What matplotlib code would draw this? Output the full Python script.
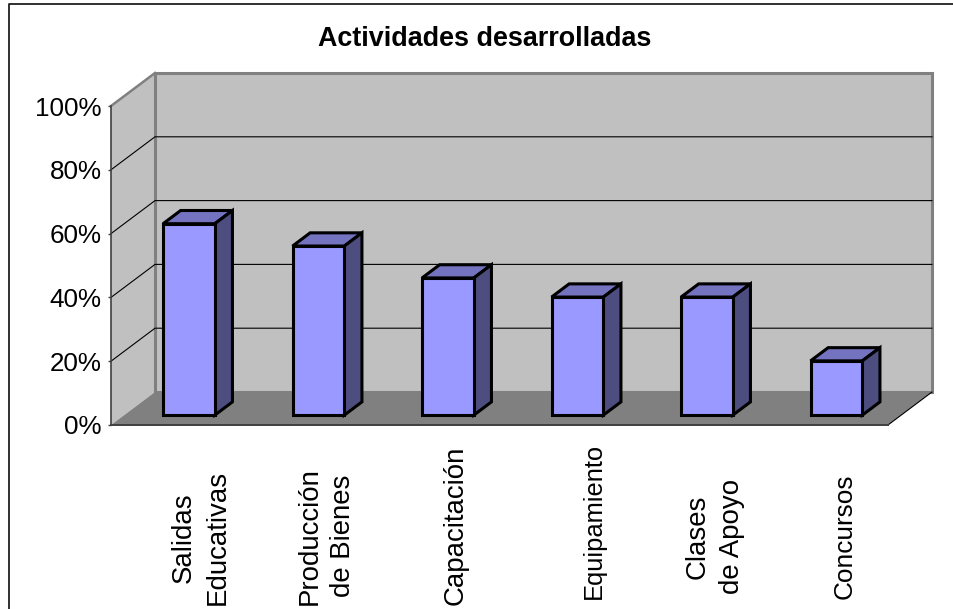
import matplotlib
matplotlib.use('Agg')
import matplotlib.pyplot as plt
from matplotlib.patches import Polygon
from matplotlib.lines import Line2D

plt.rcParams['font.family'] = ['Liberation Sans', 'DejaVu Sans']

categories = ['Salidas\nEducativas', 'Producción\nde Bienes', 'Capacitación',
              'Equipamiento', 'Clases\nde Apoyo', 'Concursos']
values = [60, 53, 43, 37, 37, 17]
yticks = [0, 20, 40, 60, 80, 100]
ytick_labels = ['0%', '20%', '40%', '60%', '80%', '100%']
title = 'Actividades desarrolladas'

W, H = 954, 609
# depth of the fake 3d box, in data units
DX = 44 / 129.5
DY = 33 / 3.19
BAR_W = 0.4
BAR_Z0, BAR_Z1 = 0.3, 0.7

# label nudges in pixels, the original is not very regular
label_shift_x = [4, 0, 0, 9, 0, 0]
label_bottom = [605, 605, 605, 599, 594, 599]
label_size = [19.9, 19.9, 19.9, 18.4, 19.9, 18.9]

fig = plt.figure(figsize=(W / 100, H / 100), dpi=100)
ax = fig.add_axes([111 / W, (H - 425) / H, 777 / W, 319 / H])
ax.set_xlim(0, len(categories))
ax.set_ylim(0, 100)
n = len(categories)


def poly(pts, **kw):
    ax.add_patch(Polygon(pts, closed=True, clip_on=False, **kw))


# walls and floor
poly([(0, 0), (DX, DY), (DX, 100 + DY), (0, 100)], fc='#c0c0c0', ec='none', zorder=1)
poly([(DX, DY), (n + DX, DY), (n + DX, 100 + DY), (DX, 100 + DY)],
     fc='#c0c0c0', ec='#808080', lw=2.2, zorder=1)
poly([(0, 0), (n, 0), (n + DX, DY), (DX, DY)], fc='#808080', ec='none', zorder=2)
ax.plot([0, DX], [100, 100 + DY], color='#808080', lw=1.8, clip_on=False, zorder=2)
ax.plot([n, n + DX], [0, DY], color='black', lw=0.8, clip_on=False, zorder=3)

# gridlines run along the side wall then the back wall
for t in yticks[1:-1]:
    ax.plot([0, DX, n + DX], [t, t + DY, t + DY], color='black', lw=0.8,
            clip_on=False, zorder=2)

# bars
for i, v in enumerate(values):
    x0 = i + 0.5 - BAR_W / 2 + BAR_Z0 * DX
    x1 = x0 + BAR_W
    y0 = BAR_Z0 * DY
    y1 = y0 + v
    dx = (BAR_Z1 - BAR_Z0) * DX
    dy = (BAR_Z1 - BAR_Z0) * DY
    style = dict(ec='black', lw=2.2, joinstyle='miter', zorder=5)
    poly([(x0, y1), (x1, y1), (x1 + dx, y1 + dy), (x0 + dx, y1 + dy)], fc='#7373bf', **style)
    poly([(x1, y0), (x1 + dx, y0 + dy), (x1 + dx, y1 + dy), (x1, y1)], fc='#4d4d80', **style)
    poly([(x0, y0), (x1, y0), (x1, y1), (x0, y1)], fc='#9999ff', **style)

# axes
ax.spines['top'].set_visible(False)
ax.spines['right'].set_visible(False)
ax.spines['left'].set_color('#404040')
ax.spines['left'].set_linewidth(1.2)
ax.spines['bottom'].set_color('#404040')
ax.spines['bottom'].set_linewidth(1.4)
ax.spines['bottom'].set_zorder(4)
ax.patch.set_visible(False)

ax.set_yticks(yticks)
ax.set_yticklabels(ytick_labels, fontsize=18.7)
ax.tick_params(axis='y', length=2.5, width=1, color='#404040', pad=4.4)

px_per_cat = 777 / n
ax.set_xticks([i + 0.5 + 0.06 + BAR_Z0 * DX + label_shift_x[i] / px_per_cat for i in range(n)])
ax.set_xticklabels(categories, rotation=90, va='bottom', ha='center',
                   multialignment='center', linespacing=1.38)
ax.tick_params(axis='x', length=0)
for i, tick in enumerate(ax.xaxis.get_major_ticks()):
    tick.set_pad((label_bottom[i] - 425) * 0.72)
    tick.label1.set_fontsize(label_size[i])

fig.text(485 / W, 1 - 39.5 / H, title, fontsize=19.4, fontweight='bold', ha='center', va='center')

# frame only shows on the top and left, the rest was cropped off
fig.add_artist(Line2D([9 / W, 9 / W, 1], [0, 1 - 4 / H, 1 - 4 / H], transform=fig.transFigure,
                      color='#202020', lw=1.3))

fig.savefig('out.png', dpi=100)
